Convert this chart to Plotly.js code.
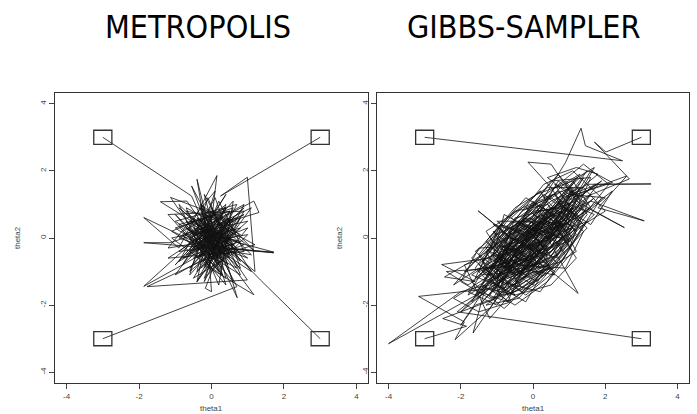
<!DOCTYPE html>
<html>
<head>
<meta charset="utf-8">
<script src="https://cdn.plot.ly/plotly-3.0.1.min.js"></script>
<style>html,body{margin:0;padding:0;background:#fff;}#chart{width:697px;height:414px;}</style>
</head>
<body>
<div id="chart"></div>
<script>
// Panel titles and axis labels
const panelTitles = ["METROPOLIS", "GIBBS-SAMPLER"];
const xLabel = "theta1";
const yLabel = "theta2";
const tickValues = [-4, -2, 0, 2, 4];
const tickLabels = ["-4", "-2", "0", "2", "4"];

// METROPOLIS chains (theta1, theta2), each starts at a corner
const metroA_x = [-3,-0.55,-0.2,0.35,-0.45,0.6,-1.13,-0.03,0.3,-0.5,-1.87,-0.9,0.15,-0.1,0.5,-0.3,0.7,-0.6,0.2,-1.87,-0.4,0.45,-0.2,0.8,-0.7,0.1,-0.3,1.72,0.2,1.72,-0.1,0.4,-0.8,0.3,-0.2,0.6,-0.5,0.1,-0.9,0.8,-0.2,0.4,-1.1,1.0,-0.6,0.2,0.9,-1.2,0.5,-0.4,0.0,1.1,-0.7,0.3,-0.2,0.7,-1.0,0.4];
const metroA_y = [3,1.25,0.4,-0.3,0.15,0.5,1.21,-0.54,0.2,-0.1,0.61,-0.3,1.86,-0.4,0.3,-0.9,-0.1,0.5,-0.2,-1.44,0.0,-0.8,0.7,0.1,-0.5,0.3,-0.2,-0.44,-0.3,-0.42,0.1,0.9,0.2,-0.6,0.5,-0.3,-0.6,0.0,0.9,-0.7,1.3,-1.2,0.0,0.5,-1.0,1.1,-0.4,-0.6,0.6,-1.3,0.8,-1.0,0.3,-0.2,-0.9,1.0,0.5,-0.5];
const metroB_x = [3,0.25,0.99,1.2,0.3,-0.4,0.5,-0.2,0.4,-0.6,1.17,1.31,0.2,-0.3,0.7,-0.1,-1.41,-0.68,0.1,0.6,-0.5,0.3,-0.9,0.5,0.0,-0.4,0.8,-0.2,0.3,-0.7,0.6,0.1,-0.3,0.9,-0.1,0.2,0.9,-0.8,0.4,-0.5,1.1,-0.3,0.6,-1.0,0.2,0.8,-0.6,0.1,-1.2,1.0,-0.2,0.5,-0.9,0.3,-0.4,0.7];
const metroB_y = [3,1.25,1.81,-1.0,-0.2,0.6,0.0,-0.5,1.0,0.1,1.1,0.76,0.4,-0.3,-0.9,0.2,1.08,1.1,-0.1,0.4,-0.4,0.7,0.0,-0.5,0.9,-1.0,0.3,0.0,-1.1,0.4,0.9,-0.4,0.3,-0.2,-0.6,0.2,0.9,-0.8,1.3,-0.2,-0.5,1.0,-1.3,0.7,-0.6,0.6,-1.1,1.4,-0.3,0.1,-1.2,0.8,0.4,-0.9,0.6,-0.3];
const metroC_x = [3,1.35,0.4,-0.3,0.71,0.2,-0.5,0.6,-0.2,1.17,0.0,-0.4,-0.1,0.5,-0.55,0.1,-0.8,0.4,-0.3,0.9,-0.6,0.2,-0.2,0.7,-0.5,0.0,-1.87,-1.14,-0.2,0.5,-0.4,0.3,-0.1,0.8,-0.3,0.1,-1.0,0.6,0.2,-0.7,1.2,-0.3,0.4,-1.1,0.8,-0.1,-0.6,1.0,0.0,-0.9,0.5,-0.4,0.9,-0.2,0.3,-0.5];
const metroC_y = [-3,-1.25,-0.2,0.5,-1.78,0.1,-0.3,0.6,-0.8,-1.69,0.0,1.75,-0.2,-0.6,1.55,-0.3,-0.6,0.3,-0.1,0.7,0.0,-1.0,0.6,-0.4,-1.2,-0.3,-0.14,-0.14,0.2,-0.2,0.4,-0.7,0.1,-0.1,-0.5,0.5,-0.8,1.1,-1.4,0.9,-0.2,-0.7,0.9,0.2,-1.1,1.2,-0.4,0.3,-1.0,1.0,-0.5,0.2,1.0,-1.3,0.4,-0.3];
const metroD_x = [-3,0.7,0.1,-0.5,0.4,-0.17,0.0,-0.1,0.6,-0.7,0.3,-1.78,0.99,0.2,-0.4,0.5,-1.0,0.1,0.7,-0.3,0.0,-0.6,0.4,-0.2,1.0,-0.5,0.2,-0.1,0.6,-0.9,0.3,-0.2,0.4,0.9,-1.2,0.3,-0.6,1.1,-0.4,0.6,-0.9,0.1,0.8,-0.7,0.5,-1.0,0.2,1.2,-0.3,0.4,-0.8,0.7,-0.1];
const metroD_y = [-3,-1.45,-0.2,0.3,0.1,-1.5,-1.6,-0.1,0.5,0.8,-0.4,-1.45,-1.25,0.0,-0.6,0.8,0.3,-0.5,0.2,1.0,-0.2,-0.9,0.4,-0.1,-0.6,0.6,-0.8,0.3,-0.2,-0.4,0.6,-0.3,-0.1,0.8,0.7,-1.1,0.0,0.9,-1.3,0.3,-0.7,1.2,-0.9,0.5,-0.2,-1.1,0.7,-0.4,0.9,-1.4,0.1,0.6,-0.5];

// GIBBS-SAMPLER chains
const gibbsA_x = [-3,2.48,1.45,1.33,0.9,0.3,1.1,0.6,1.4,0.8,-0.2,0.5,-0.5,0.2,-0.9,-0.1,0.7,1.6,0.9,0.3,-0.6,-1.2,-0.3,0.4,-0.7,-1.5,-0.8,0.1,1.0,0.5,-0.14,0.5,1.2,2.53,1.5,0.7,-0.2,-1.0,-0.4,0.3,-0.6,0.2,1.1,0.4,-0.5,-1.3,-0.7,0.0,0.8,1.8,1.0,0.2,-0.9,-1.6,-0.8,0.3,1.25,0.4,-0.3,-1.1,-0.5,0.6,0.0,-0.6,-1.0,0.1,0.9,0.3,-0.4,1.2,0.4,-0.8,-1.4,-0.6,0.5,1.3,0.7,-0.1,-1.0,-0.3,0.6,1.5,0.9,1.7,0.8,-0.5,-1.2,-0.2,0.3,1.0,0.2,-0.7,-1.5,-0.9,0.0,0.9,1.6,0.5,-0.4,-1.1,0.1,1.2,0.3,-0.6,0.4,1.1,-0.2,-0.9,0.2,-1.0,0.2,1.2,0.6,-0.3,-1.3,-0.5,0.8,1.5,0.4,-0.8,-1.1,0.1,1.0,1.9,1.1,0.3,-0.6,-1.4,-0.9,0.3,1.2,0.7,-0.2,-1.2,-0.4,0.9,1.4,0.6,-0.5,-1.0,0.0,0.8,-0.3,0.5,1.3,0.2,-0.7,0.1];
const gibbsA_y = [3,2.3,2.75,3.27,2.25,1.2,1.5,0.4,1.8,0.9,0.1,0.8,-0.6,0.4,-0.3,-0.8,0.5,1.3,0.2,0.9,0.2,-1.1,-0.2,-0.5,-1.4,-0.8,0.1,-0.3,0.7,1.5,2.26,2.2,1.1,0.31,0.9,-0.2,0.6,-0.9,0.3,-0.9,-1.6,-0.6,0.3,1.0,0.8,-0.3,-1.0,0.0,1.2,1.6,0.5,-0.1,0.4,-1.2,-0.5,0.2,-1.65,-0.9,-1.2,-1.8,-0.7,0.1,1.1,0.0,-1.3,-0.4,0.9,0.4,-0.3,1.8,0.6,-1.2,-1.9,-0.9,0.3,1.1,1.9,0.9,-0.4,-1.5,-0.6,0.7,1.6,2.1,0.4,-0.2,-1.3,-1.9,-1.0,-0.1,1.4,0.6,-0.5,-1.5,-0.7,0.1,1.8,1.7,0.4,-0.9,-0.2,0.9,-0.4,-1.1,0.1,1.4,0.2,-0.6,0.5,0.5,-0.6,0.1,1.3,0.9,0.2,-1.1,-0.7,0.5,0.0,0.7,-0.5,-1.3,-0.3,1.2,2.0,1.6,0.4,-0.7,-1.7,-1.0,-0.4,0.6,1.2,0.0,-0.8,-0.9,0.2,0.9,0.6,-1.0,-0.5,0.4,0.0,-0.3,1.3,0.7,-0.2,0.1];
const gibbsB_x = [3,2.02,1.70,2.67,1.4,0.6,1.2,2.2,1.6,0.7,1.3,0.9,0.0,0.8,-0.1,0.6,1.5,3.27,1.7,0.9,0.3,-0.4,0.4,1.2,2.6,1.8,3.08,1.6,0.5,-0.3,-1.0,-0.2,0.7,1.4,0.8,0.1,-0.7,-1.52,-0.5,-1.1,-0.3,0.5,1.0,0.2,-0.6,-1.4,-0.8,0.0,0.6,1.3,0.7,-0.2,-0.9,-0.1,0.9,0.4,-0.5,-1.2,-0.6,0.3,1.1,0.5,-0.3,0.2,-0.8,0.0,1.9,1.0,0.2,-0.9,-0.1,0.8,1.6,2.2,0.9,0.3,-0.6,-1.3,-0.5,0.4,1.4,2.0,1.1,0.0,-1.0,-0.4,0.6,1.7,0.9,0.1,-0.8,-1.6,-0.7,0.2,1.0,1.5,0.7,0.0,-1.1,-0.3,0.5,1.3,0.4,-0.5,0.3,1.0,1.8,1.2,0.4,1.0,2.0,1.3,0.5,-0.2,0.6,1.6,1.1,0.1,-0.6,0.3,1.2,2.1,1.4,0.6,-0.1,0.9,1.7,0.8,-0.4,-1.1,-0.2,0.7,1.5,0.9,0.0,-0.9,0.2,1.0,0.4,-0.6,0.5,1.3];
const gibbsB_y = [3,2.56,2.86,1.76,1.2,1.6,0.6,1.4,0.4,1.0,1.9,1.65,0.7,0.3,-0.3,0.9,1.6,1.61,1.6,0.8,1.3,0.5,0.0,1.3,1.85,0.9,0.51,1.1,0.6,-0.2,-0.7,0.4,0.0,0.8,1.4,0.9,0.1,0.81,-0.1,-0.6,-1.0,-0.4,0.3,0.7,-0.4,-1.0,-1.6,-1.0,-0.3,0.4,1.1,0.2,-0.8,-0.5,0.6,-0.1,0.4,-0.2,-1.1,-0.7,0.0,0.7,0.0,-0.4,-0.9,0.3,1.7,1.0,-0.4,-1.3,-0.9,0.6,2.0,1.65,1.2,0.2,-0.8,-0.1,0.9,1.5,1.5,0.8,0.2,-0.6,-1.7,-0.4,0.1,1.2,0.5,1.0,0.3,-0.9,-1.9,-1.3,-0.3,1.0,1.7,0.4,-0.7,-0.1,0.9,0.5,-0.8,-1.3,0.0,1.2,1.9,2.1,1.8,1.3,1.2,0.6,1.2,0.9,0.2,0.9,1.7,1.3,0.6,-0.2,0.4,1.6,2.2,1.5,0.5,-0.1,0.7,1.1,0.2,0.4,-0.3,-0.6,0.3,0.9,0.8,-0.2,-0.9,-0.2,0.5,-0.6,0.0,1.0];
const gibbsC_x = [3,-2.1,-1.3,-0.5,-1.0,-0.2,-0.8,-1.7,-0.9,0.2,-0.5,-1.2,-2.53,-1.6,-2.45,-1.4,-0.6,0.3,-0.4,-1.1,-0.3,0.4,-0.2,0.8,0.1,-0.7,-1.5,-1.0,-0.1,0.6,1.3,0.5,-0.3,0.3,-0.6,-1.3,-0.4,0.2,-0.5,0.4,1.0,0.2,-0.8,-0.2,0.7,1.2,0.3,-0.6,-1.2,-0.4,0.5,-0.1,0.9,1.5,0.8,0.0,-0.9,-0.2,0.6,-0.5,0.1,-0.7,0.2,1.0,0.4,-1.8,-1.0,-0.3,0.5,-0.2,-1.0,-1.7,-0.8,0.1,0.9,0.2,-0.6,-1.4,-0.5,0.4,1.1,0.5,-0.4,-1.2,-0.3,0.8,1.4,0.6,-0.3,-1.1,-1.9,-0.9,0.0,0.7,1.1,0.3,-0.5,0.4,-0.7,-1.5,-0.6,0.2,-0.4,0.6,-0.2,-1.1,-0.4,0.6,0.1,-1.5,-2.0,-1.2,-0.2,0.7,0.0,-0.9,-1.7,-0.9,0.2,0.9,0.3,-0.6,-1.3,-0.5,0.5,1.2,0.6,-0.4,-1.0,-1.8,-0.7,0.4,-0.1,-0.8,-1.4,0.0,0.8,-0.2,-1.0];
const gibbsC_y = [-3,-2.2,-1.5,-1.7,-0.9,-0.6,-1.2,-1.9,-0.4,-0.2,-1.0,-0.6,-0.79,-1.3,-1.16,-0.5,0.1,0.5,-0.5,-1.6,-1.3,-0.4,0.3,0.8,-0.1,-0.7,-1.0,0.1,0.6,0.2,1.5,1.1,0.4,-0.3,-1.4,-2.0,-1.8,-1.1,-0.2,0.3,1.0,0.8,-0.1,-0.9,-0.5,0.6,0.1,0.5,-0.4,-0.8,-0.1,0.4,1.4,2.0,1.0,0.2,-1.1,-0.4,0.7,0.0,-0.7,-0.3,0.5,0.4,-0.2,-1.6,-2.0,-1.1,-0.9,-0.2,-0.6,-1.1,-1.5,-0.5,0.3,1.0,0.2,-1.4,-2.0,-1.3,-0.4,0.6,-0.3,-0.9,-1.6,-0.7,0.4,1.3,0.8,-0.2,-1.0,-0.8,-1.4,-0.2,0.8,0.2,-0.6,0.7,-1.9,-1.6,-0.5,-0.9,0.1,0.5,-0.6,0.2,-0.9,-1.1,-0.2,-0.3,-1.3,-1.8,-1.5,-0.8,0.1,0.4,-0.6,-1.3,-1.6,-0.5,0.3,-0.1,-1.2,-1.7,-1.4,-0.6,0.4,0.5,-0.3,-1.7,-1.0,-0.7,-0.1,0.0,-0.9,-0.8,0.0,0.4,-0.7];
const gibbsD_x = [-3,-1.84,-2.5,-1.0,-1.66,-1.3,-2.0,-4.0,-0.9,-1.5,-2.2,-1.2,-0.5,-1.1,-3.17,-1.9,-2.16,-1.2,-0.6,-1.4,-0.7,0.0,-0.8,-1.6,-0.9,-0.2,0.5,-0.3,-1.0,-0.4,0.3,-0.5,0.1,0.8,0.2,-0.6,-1.3,-0.7,0.0,0.7,1.2,0.6,-0.2,-0.8,-0.1,0.6,1.4,0.9,0.2,-0.5,-1.1,-0.4,0.4,0.0,-0.7,0.3,1.1,0.5,-0.3,-1.0,-0.2,-1.3,-2.0,-1.0,-0.2,0.6,-0.1,-0.9,-1.6,-0.7,0.3,1.1,0.4,-0.4,-1.2,-0.5,0.5,1.3,0.7,-0.2,-0.9,-1.7,-0.8,0.1,0.8,0.2,-0.6,-1.4,-0.3,0.5,1.2,0.4,-0.5,-1.0,0.0,0.8,-0.1,-0.8,0.3,-2.2,-1.5,-0.6,-1.1,-2.4,-1.8,-0.7,0.2,-0.5,-1.6,-2.0,-1.2,-0.3,0.5,-0.2,-1.0,-1.9,-1.2,-0.4,0.4,-0.5,-1.3,-0.8,0.1,1.0,0.3,-0.6,-1.4,-0.2,0.6];
const gibbsD_y = [-3,-2.63,-2.4,-1.8,-2.83,-1.4,-1.6,-3.15,-1.3,-0.9,-1.4,-0.2,-0.9,-1.5,-1.74,-2.5,-3.03,-2.1,-1.2,-0.7,-0.2,-0.6,-1.0,-1.7,-0.6,0.1,0.4,-0.4,-0.2,0.5,0.0,-1.4,-0.8,0.2,0.9,0.3,-0.9,-1.7,-1.3,-0.6,0.2,0.8,0.5,-0.5,-0.2,0.0,1.0,1.7,1.2,0.2,-0.5,-1.0,-0.6,0.3,-0.8,0.6,0.9,-0.3,-0.7,-1.2,0.0,-1.6,-2.2,-1.1,-1.7,-1.0,-0.3,0.2,-0.4,-1.2,-0.8,0.3,1.1,0.0,-1.7,-0.8,-0.4,0.6,1.4,0.7,-0.6,-1.3,-2.1,-1.2,-0.3,0.5,-0.3,-1.1,-1.0,0.0,1.1,0.8,-0.4,-1.5,-0.9,0.5,0.2,-1.0,-0.1,-1.8,-2.2,-1.9,-0.9,-1.0,-1.4,-0.6,-1.1,-1.6,-2.0,-2.6,-1.3,-0.6,-0.9,-1.2,-0.5,-0.8,-2.4,-1.4,-0.3,0.2,-0.4,-1.4,-0.4,-0.1,0.6,-0.5,-1.5,-0.9,0.2];

const metroChains = [[metroA_x, metroA_y],[metroB_x, metroB_y],[metroC_x, metroC_y],[metroD_x, metroD_y]];
const gibbsChains = [[gibbsA_x, gibbsA_y],[gibbsB_x, gibbsB_y],[gibbsC_x, gibbsC_y],[gibbsD_x, gibbsD_y]];

const W = 697, H = 414;
const lineStyle = {color: '#111', width: 0.8};
const traces = [];
const shapes = [];
function addPanel(chains, xa, ya) {
  chains.forEach(c => {
    traces.push({x: c[0], y: c[1], xaxis: xa, yaxis: ya, type: 'scatter', mode: 'lines',
      line: lineStyle, hoverinfo: 'skip', showlegend: false});
    // start marker box around each chain's first point
    const hw = 0.25, hh = 0.21;
    shapes.push({type: 'rect', xref: xa, yref: ya,
      x0: c[0][0] - hw, x1: c[0][0] + hw, y0: c[1][0] - hh, y1: c[1][0] + hh,
      line: {color: '#333', width: 1.3}});
  });
}
addPanel(metroChains, 'x', 'y');
addPanel(gibbsChains, 'x2', 'y2');

const yDom = [1 - 383 / H, 1 - 93 / H];
function axis(domain, extra) {
  return Object.assign({
    domain: domain, range: [-4.32, 4.32], tickmode: 'array', tickvals: tickValues, ticktext: tickLabels,
    ticks: 'outside', ticklen: 5, tickwidth: 1, tickcolor: '#444',
    showline: true, mirror: true, linecolor: '#333', linewidth: 1.3,
    showgrid: false, zeroline: false, fixedrange: true, automargin: false,
    tickfont: {family: 'Liberation Sans, Arial, sans-serif', size: 8, color: '#444'}
  }, extra || {});
}
const labelFont = {family: 'Liberation Sans, Arial, sans-serif', size: 8, color: '#444'};
const titleFont = {family: 'DejaVu Sans Condensed, DejaVu Sans, sans-serif', size: 32, color: '#000'};
const layout = {
  width: W, height: H, margin: {l: 0, r: 0, t: 0, b: 0},
  paper_bgcolor: '#fff', plot_bgcolor: '#fff', showlegend: false, hovermode: false,
  xaxis: axis([55 / W, 368 / W], {anchor: 'y'}),
  yaxis: axis(yDom, {anchor: 'x', tickangle: -90}),
  xaxis2: axis([377 / W, 689 / W], {anchor: 'y2'}),
  yaxis2: axis(yDom, {anchor: 'x2', tickangle: -90}),
  shapes: shapes,
  annotations: [
    {text: panelTitles[0], xref: 'paper', yref: 'paper', x: 198 / W, y: 1 - 27 / H, xanchor: 'center', yanchor: 'middle', showarrow: false, font: titleFont},
    {text: panelTitles[1], xref: 'paper', yref: 'paper', x: 523 / W, y: 1 - 27 / H, xanchor: 'center', yanchor: 'middle', showarrow: false, font: titleFont},
    {text: xLabel, xref: 'paper', yref: 'paper', x: 211.5 / W, y: 1 - 408 / H, xanchor: 'center', yanchor: 'middle', showarrow: false, font: labelFont},
    {text: xLabel, xref: 'paper', yref: 'paper', x: 533 / W, y: 1 - 408 / H, xanchor: 'center', yanchor: 'middle', showarrow: false, font: labelFont},
    {text: yLabel, xref: 'paper', yref: 'paper', x: 17 / W, y: 1 - 238 / H, xanchor: 'center', yanchor: 'middle', showarrow: false, textangle: -90, font: labelFont},
    {text: yLabel, xref: 'paper', yref: 'paper', x: 339 / W, y: 1 - 238 / H, xanchor: 'center', yanchor: 'middle', showarrow: false, textangle: -90, font: labelFont}
  ]
};
Plotly.newPlot('chart', traces, layout, {displayModeBar: false, staticPlot: true});
</script>
</body>
</html>
